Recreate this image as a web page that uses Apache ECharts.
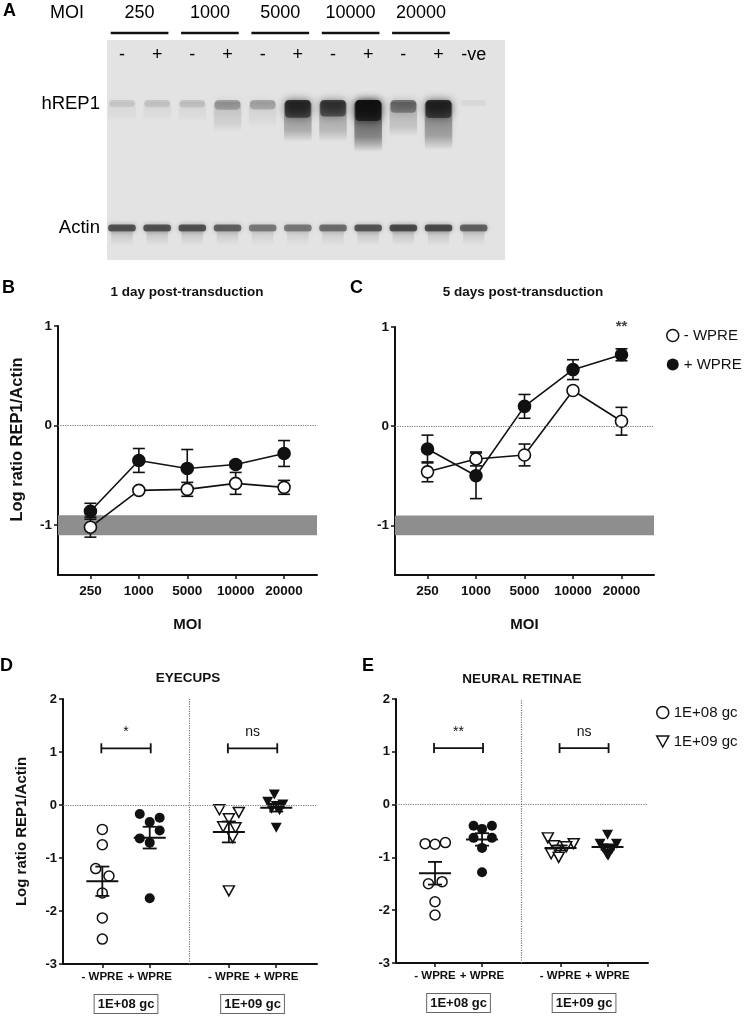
<!DOCTYPE html>
<html><head><meta charset="utf-8">
<script src="https://cdn.jsdelivr.net/npm/echarts@6/dist/echarts.min.js"></script>
<style>html,body{margin:0;padding:0;background:#fff}#c{width:747px;height:1016px}</style>
</head><body><div id="c"></div><script>
// ---------- Panel A: western blot ----------
const laneLabels = ['-','+','-','+','-','+','-','+','-','+','-ve'];
const moiGroups = ['250','1000','5000','10000','20000'];
const blotRows = ['hREP1','Actin'];
const rowMigration = [64, 188];
const hrep1Intensity = [0.12,0.14,0.15,0.30,0.28,0.80,0.72,1.00,0.48,0.82,0.06];
const smearIntensity = [0.05,0.05,0.06,0.14,0.08,0.38,0.30,0.62,0.22,0.45,0.00];
const smearLength    = [20,20,20,30,25,40,40,50,35,48,0];
const actinIntensity = [0.62,0.62,0.62,0.55,0.45,0.45,0.50,0.60,0.65,0.65,0.55];

// ---------- Panels B / C ----------
const moiLabels = ['250','1000','5000','10000','20000'];
const day1Minus    = [-1.02,-0.65,-0.64,-0.58,-0.62];
const day1MinusErr = [0.10,0.02,0.07,0.11,0.07];
const day1Plus     = [-0.86,-0.35,-0.43,-0.39,-0.28];
const day1PlusErr  = [0.08,0.12,0.19,0.03,0.13];
const day5Minus    = [-0.46,-0.33,-0.29,0.36,0.05];
const day5MinusErr = [0.10,0.07,0.11,0.03,0.14];
const day5Plus     = [-0.23,-0.50,0.20,0.57,0.72];
const day5PlusErr  = [0.14,0.23,0.12,0.10,0.06];
const backgroundBand = [-1.1, -0.9];
const sigDay5 = ['', '', '', '', '**'];

// ---------- Panels D / E ----------
const groupLabels = ['- WPRE','+ WPRE','- WPRE','+ WPRE'];
const doseLabels = ['1E+08 gc','1E+09 gc'];
const eyecupsMinus08 = [-0.46,-0.75,-1.20,-1.34,-1.66,-2.13,-2.53];
const eyecupsMinus08Jitter = [0,0,-0.14,0.14,0,0,0];
const eyecupsPlus08 = [-0.17,-0.24,-0.32,-0.48,-0.63,-0.71,-1.76];
const eyecupsPlus08Jitter = [-0.21,0.21,0,0.21,-0.21,0,0];
const eyecupsMinus09 = [-0.09,-0.14,-0.26,-0.41,-0.43,-0.61,-1.62];
const eyecupsMinus09Jitter = [-0.2,0.21,0,-0.12,0.14,0.08,0];
const eyecupsPlus09 = [0.20,0.06,0.01,-0.02,-0.07,-0.10,-0.43];
const eyecupsPlus09Jitter = [-0.04,-0.18,0.14,0,-0.1,0.07,0];
const retinaeMinus08 = [-0.74,-0.75,-0.72,-1.50,-1.46,-1.84,-2.09];
const retinaeMinus08Jitter = [-0.21,0,0.22,-0.14,0.15,0,0];
const retinaePlus08 = [-0.40,-0.40,-0.46,-0.63,-0.63,-0.82,-1.28];
const retinaePlus08Jitter = [-0.18,0.21,0,-0.18,0.21,0,0];
const retinaeMinus09 = [-0.63,-0.78,-0.74,-0.80,-0.87,-0.93,-1.00];
const retinaeMinus09Jitter = [-0.27,-0.14,0.28,0.12,-0.06,-0.2,-0.04];
const retinaePlus09 = [-0.57,-0.74,-0.74,-0.83,-0.85,-0.93,-0.97];
const retinaePlus09Jitter = [0,-0.16,0.19,-0.09,0.09,-0.02,0.01];
const sigEyecups = ['*','ns'];
const sigRetinae = ['**','ns'];
const bracketLevel = 1.07;

// ---------- layout / style ----------
const FONT = 'Liberation Sans, Arial, Helvetica, sans-serif';
const INK = '#111';
const groupPos = [0, 1, 2.67, 3.67];
const dividerPos = 1.845;

const chart = echarts.init(document.getElementById('c'), null, {renderer:'canvas', width:747, height:1016});

function meanSem(v){
  const n = v.length, m = v.reduce((a,b)=>a+b,0)/n;
  const sd = Math.sqrt(v.reduce((a,b)=>a+(b-m)*(b-m),0)/(n-1));
  return [m, sd/Math.sqrt(n)];
}
function ln(x1,y1,x2,y2,w){ return {type:'line', shape:{x1,y1,x2,y2}, style:{stroke:INK, lineWidth:w||1.5}}; }

function valueAxis(grid, min, max, extra){
  return Object.assign({
    gridIndex: grid, type:'value', min, max,
    splitLine:{show:false},
    axisLine:{show:true, onZero:false, lineStyle:{color:INK, width:2}},
    axisTick:{show:true, length:4, lineStyle:{color:INK, width:1.5}},
    axisLabel:{color:INK, fontFamily:FONT, fontWeight:'bold', fontSize:13.5}
  }, extra || {});
}
function hiddenAxis(grid, min, max, extra){
  return Object.assign({
    gridIndex: grid, type:'value', min, max,
    splitLine:{show:false}, axisLine:{show:false}, axisTick:{show:false}
  }, extra || {});
}

function errRender(params, api){
  const x = api.value(0), m = api.value(1), e = api.value(2);
  const t = api.coord([x, m+e]), b = api.coord([x, m-e]);
  const cap = 6;
  return {type:'group', children:[
    ln(t[0],t[1],b[0],b[1],1.6), ln(t[0]-cap,t[1],t[0]+cap,t[1],1.6), ln(b[0]-cap,b[1],b[0]+cap,b[1],1.6)
  ]};
}
function meanRender(params, api){
  const x = api.value(0), m = api.value(1), s = api.value(2);
  const c = api.coord([x, m]), t = api.coord([x, m+s]), b = api.coord([x, m-s]);
  return {type:'group', children:[
    ln(c[0]-16,c[1],c[0]+16,c[1],2), ln(t[0],t[1],b[0],b[1],1.8),
    ln(t[0]-7,t[1],t[0]+7,t[1],1.8), ln(b[0]-7,b[1],b[0]+7,b[1],1.8)
  ]};
}
function bracketRender(params, api){
  const x0 = api.value(0), x1 = api.value(1), y = api.value(2);
  const p0 = api.coord([x0, y]), p1 = api.coord([x1, y]);
  return {type:'group', children:[
    ln(p0[0]-1,p0[1],p1[0]+1,p1[1],1.8), ln(p0[0]-1,p0[1]-5,p0[0]-1,p0[1]+5,1.8), ln(p1[0]+1,p1[1]-5,p1[0]+1,p1[1]+5,1.8),
    {type:'text', style:{text: api.value(3), x:(p0[0]+p1[0])/2, y:p0[1]-9, align:'center', verticalAlign:'bottom',
      fontFamily:FONT, fontSize:14, fill:INK}}
  ]};
}

function rgba(a){ return 'rgba(15,15,15,' + Math.max(0, Math.min(1, a)) + ')'; }
function blotRender(params, api){
  const lane = api.value(0), hr = api.value(1), sm = api.value(2), sl = api.value(3), ac = api.value(4);
  const w = api.size([1,0])[0]*0.84;
  const uy = api.size([0,1])[1];
  const h = api.coord([lane, rowMigration[0]]);
  const a = api.coord([lane, rowMigration[1]]);
  const kids = [];
  if (sm > 0) kids.push({type:'rect', shape:{x:h[0]-w/2+1, y:h[1]-2, width:w-2, height:sl*uy, r:3},
    style:{fill:{type:'linear',x:0,y:0,x2:0,y2:1,colorStops:[{offset:0,color:rgba(sm)},{offset:0.7,color:rgba(sm*0.6)},{offset:1,color:rgba(0)}]},
      shadowBlur:6, shadowColor:rgba(sm*0.5)}});
  const bh = 5 + hr*16;
  kids.push({type:'rect', shape:{x:h[0]-w/2+2, y:h[1]-4, width:w-4, height:bh, r:4},
    style:{fill:{type:'linear',x:0,y:0,x2:0,y2:1,colorStops:[{offset:0,color:rgba(hr)},{offset:1,color:rgba(hr*0.7)}]},
      shadowBlur:9, shadowColor:rgba(hr*0.9)}});
  kids.push({type:'rect', shape:{x:a[0]-w/2+1, y:a[1]-3.5, width:w-2, height:7, r:3},
    style:{fill:rgba(ac), shadowBlur:5, shadowColor:rgba(ac*0.8)}});
  kids.push({type:'rect', shape:{x:a[0]-w/2+4, y:a[1]+4, width:w-8, height:14},
    style:{fill:{type:'linear',x:0,y:0,x2:0,y2:1,colorStops:[{offset:0,color:rgba(ac*0.22)},{offset:1,color:rgba(0)}]}, shadowBlur:4, shadowColor:rgba(ac*0.1)}});
  return {type:'group', children:kids};
}

function scatterSeries(name, vals, jit, pos, x, y, filled, tri){
  return {type:'scatter', name, xAxisIndex:x, yAxisIndex:y, z:4, silent:true,
    data: vals.map((v,i)=>[pos + jit[i], v]),
    symbol: tri ? 'triangle' : 'circle', symbolRotate: tri ? 180 : 0,
    symbolSize: tri ? [11,10] : 10,
    itemStyle:{color: filled ? INK : '#fff', opacity:1, borderColor: INK, borderWidth: filled ? 0 : 1.5}};
}
function lineSeries(name, vals, x, y, filled){
  return {type:'line', name, xAxisIndex:x, yAxisIndex:y, z:4, silent:true,
    data: vals.map((v,i)=>[i, v]), symbol:'circle', symbolSize:12, showSymbol:true,
    lineStyle:{color:INK, width:1.6},
    itemStyle:{color: filled ? INK : '#fff', opacity:1, borderColor: INK, borderWidth: 1.6}};
}
const dotted = {color:'#777', type:'dotted', width:1.2};

const eyecupGroups = [eyecupsMinus08, eyecupsPlus08, eyecupsMinus09, eyecupsPlus09];
const retinaGroups = [retinaeMinus08, retinaePlus08, retinaeMinus09, retinaePlus09];

const tickStyle = (vals)=>({show:true,length:4,lineStyle:{color:INK,width:1.5},customValues:vals});
const option = {
  animation:false,
  textStyle:{fontFamily:FONT},
  grid:[
    {left:107, top:40, width:398, height:220, show:true, backgroundColor:'#e3e3e3', borderWidth:0},
    {left:58, top:326, width:259, height:249},
    {left:395, top:327, width:259, height:248},
    {left:63, top:699, width:254, height:265},
    {left:396, top:699, width:252, height:264}
  ],
  xAxis:[
    hiddenAxis(0, 0.574, 11.89, {position:'top', axisLabel:{inside:true, margin:6, customValues:laneLabels.map((_,i)=>i+1),
      formatter:v=>laneLabels[Math.round(v)-1], color:'#000', fontFamily:FONT, fontSize:18}}),
    hiddenAxis(0, 0.574, 11.89, {position:'top', axisLabel:{margin:18, customValues:moiGroups.map((_,i)=>2*i+1.5),
      formatter:v=>moiGroups[Math.round((v-1.5)/2)], color:'#000', fontFamily:FONT, fontSize:18}}),
    valueAxis(1, -0.67, 4.68, {axisTick:tickStyle([0,1,2,3,4]),
      axisLabel:{color:INK,fontFamily:FONT,fontWeight:'bold',fontSize:13.5,margin:9,customValues:[0,1,2,3,4],formatter:v=>moiLabels[Math.round(v)]},
      name:'MOI', nameLocation:'middle', nameGap:42, nameTextStyle:{color:INK,fontFamily:FONT,fontWeight:'bold',fontSize:15}}),
    valueAxis(2, -0.67, 4.67, {axisTick:tickStyle([0,1,2,3,4]),
      axisLabel:{color:INK,fontFamily:FONT,fontWeight:'bold',fontSize:13.5,margin:9,customValues:[0,1,2,3,4],formatter:v=>moiLabels[Math.round(v)]},
      name:'MOI', nameLocation:'middle', nameGap:42, nameTextStyle:{color:INK,fontFamily:FONT,fontWeight:'bold',fontSize:15}}),
    valueAxis(3, -0.83, 4.53, {axisTick:tickStyle(groupPos),
      axisLabel:{color:INK,fontFamily:FONT,fontWeight:'bold',fontSize:11.5,margin:7,customValues:groupPos,formatter:v=>groupLabels[groupPos.indexOf(v)]}}),
    hiddenAxis(3, -0.83, 4.53, {position:'bottom', axisLabel:{margin:31, customValues:[0.5, 3.17], formatter:v=>doseLabels[v<2?0:1],
      color:INK, fontFamily:FONT, fontWeight:'bold', fontSize:13, borderColor:'#666', borderWidth:1, padding:[3,3,2,3], backgroundColor:'#fff'}}),
    valueAxis(4, -0.83, 4.53, {axisTick:tickStyle(groupPos),
      axisLabel:{color:INK,fontFamily:FONT,fontWeight:'bold',fontSize:11.5,margin:7,customValues:groupPos,formatter:v=>groupLabels[groupPos.indexOf(v)]}}),
    hiddenAxis(4, -0.83, 4.53, {position:'bottom', axisLabel:{margin:31, customValues:[0.5, 3.17], formatter:v=>doseLabels[v<2?0:1],
      color:INK, fontFamily:FONT, fontWeight:'bold', fontSize:13, borderColor:'#666', borderWidth:1, padding:[3,3,2,3], backgroundColor:'#fff'}})
  ],
  yAxis:[
    hiddenAxis(0, 0, 220, {inverse:true, axisLabel:{margin:7, customValues:rowMigration, formatter:v=>blotRows[rowMigration.indexOf(v)],
      color:'#000', fontFamily:FONT, fontSize:18.5}}),
    valueAxis(1, -1.5, 1, {axisTick:tickStyle([-1,0,1]),
      axisLabel:{color:INK,fontFamily:FONT,fontWeight:'bold',fontSize:13.5,margin:6,customValues:[-1,0,1]},
      name:'Log ratio REP1/Actin', nameLocation:'middle', nameGap:32,
      nameTextStyle:{color:INK,fontFamily:FONT,fontWeight:'bold',fontSize:16.5,padding:[0,0,0,22]}}),
    valueAxis(2, -1.5, 1, {axisTick:tickStyle([-1,0,1]),
      axisLabel:{color:INK,fontFamily:FONT,fontWeight:'bold',fontSize:13.5,margin:6,customValues:[-1,0,1]}}),
    valueAxis(3, -3, 2, {interval:1, axisLabel:{color:INK,fontFamily:FONT,fontWeight:'bold',fontSize:13,margin:6},
      name:'Log ratio REP1/Actin', nameLocation:'middle', nameGap:34,
      nameTextStyle:{color:INK,fontFamily:FONT,fontWeight:'bold',fontSize:15}}),
    valueAxis(4, -3, 2, {interval:1, axisLabel:{color:INK,fontFamily:FONT,fontWeight:'bold',fontSize:13,margin:6}})
  ],
  legend:[
    {orient:'vertical', left:666, top:328, padding:0, itemWidth:12, itemHeight:12, itemGap:14, selectedMode:false,
      textStyle:{color:INK, fontFamily:FONT, fontSize:15},
      data:[{name:'- WPRE', icon:'circle', itemStyle:{color:'#fff', borderColor:INK, borderWidth:1.5}},
            {name:'+ WPRE', icon:'circle', itemStyle:{color:INK, borderWidth:0}}]},
    {orient:'vertical', left:656, top:705, padding:0, itemWidth:12, itemHeight:12, itemGap:14, selectedMode:false,
      textStyle:{color:INK, fontFamily:FONT, fontSize:15},
      data:[{name:'1E+08 gc', icon:'circle', itemStyle:{color:'#fff', borderColor:INK, borderWidth:1.5}},
            {name:'1E+09 gc', icon:'path://M0,0L12,0L6,11Z', itemStyle:{color:'#fff', borderColor:INK, borderWidth:1.5}}]}
  ],
  graphic:[
    {type:'text', x:3, y:2, style:{text:'A', fontFamily:FONT, fontWeight:'bold', fontSize:18, fill:'#000'}},
    {type:'text', x:67, y:13.5, style:{text:'MOI', align:'center', verticalAlign:'middle', fontFamily:FONT, fontSize:18, fill:'#000'}},
    {type:'text', x:2, y:279, style:{text:'B', fontFamily:FONT, fontWeight:'bold', fontSize:18, fill:'#000'}},
    {type:'text', x:350, y:279, style:{text:'C', fontFamily:FONT, fontWeight:'bold', fontSize:18, fill:'#000'}},
    {type:'text', x:0, y:657, style:{text:'D', fontFamily:FONT, fontWeight:'bold', fontSize:18, fill:'#000'}},
    {type:'text', x:362, y:657, style:{text:'E', fontFamily:FONT, fontWeight:'bold', fontSize:18, fill:'#000'}},
    {type:'text', x:187, y:292, style:{text:'1 day post-transduction', align:'center', verticalAlign:'middle', fontFamily:FONT, fontWeight:'bold', fontSize:13.5, fill:INK}},
    {type:'text', x:523, y:292, style:{text:'5 days post-transduction', align:'center', verticalAlign:'middle', fontFamily:FONT, fontWeight:'bold', fontSize:13.5, fill:INK}},
    {type:'text', x:188, y:678.5, style:{text:'EYECUPS', align:'center', verticalAlign:'middle', fontFamily:FONT, fontWeight:'bold', fontSize:13.5, fill:INK}},
    {type:'text', x:522, y:679.5, style:{text:'NEURAL RETINAE', align:'center', verticalAlign:'middle', fontFamily:FONT, fontWeight:'bold', fontSize:13.5, fill:INK}}
  ],
  series:[
    // A
    {type:'custom', xAxisIndex:0, yAxisIndex:0, silent:true, clip:true,
      data: laneLabels.map((_,i)=>[i+1, hrep1Intensity[i], smearIntensity[i], smearLength[i], actinIntensity[i]]),
      renderItem: blotRender},
    {type:'custom', xAxisIndex:1, yAxisIndex:0, silent:true, clip:false,
      data: moiGroups.map((_,i)=>[2*i+1.5]),
      renderItem:(p,api)=>{const c=api.value(0); const a=api.coord([c-0.82,-7]), b=api.coord([c+0.82,-7]);
        return ln(a[0],a[1],b[0],b[1],2.6);}},
    // B
    {type:'line', xAxisIndex:2, yAxisIndex:1, data:[], z:1, silent:true,
      markArea:{silent:true, itemStyle:{color:'#8e8e8e'}, data:[[{yAxis:backgroundBand[1]},{yAxis:backgroundBand[0]}]]},
      markLine:{silent:true, symbol:'none', label:{show:false}, lineStyle:dotted, data:[{yAxis:0}]}},
    {type:'custom', xAxisIndex:2, yAxisIndex:1, z:3, silent:true, renderItem:errRender,
      data: day1Minus.map((v,i)=>[i,v,day1MinusErr[i]]).concat(day1Plus.map((v,i)=>[i,v,day1PlusErr[i]]))},
    lineSeries('- WPRE', day1Minus, 2, 1, false),
    lineSeries('+ WPRE', day1Plus, 2, 1, true),
    // C
    {type:'line', xAxisIndex:3, yAxisIndex:2, data:[], z:1, silent:true,
      markArea:{silent:true, itemStyle:{color:'#8e8e8e'}, data:[[{yAxis:backgroundBand[1]},{yAxis:backgroundBand[0]}]]},
      markLine:{silent:true, symbol:'none', label:{show:false}, lineStyle:dotted, data:[{yAxis:0}]}},
    {type:'custom', xAxisIndex:3, yAxisIndex:2, z:3, silent:true, renderItem:errRender,
      data: day5Minus.map((v,i)=>[i,v,day5MinusErr[i]]).concat(day5Plus.map((v,i)=>[i,v,day5PlusErr[i]]))},
    lineSeries('- WPRE', day5Minus, 3, 2, false),
    lineSeries('+ WPRE', day5Plus, 3, 2, true),
    {type:'scatter', xAxisIndex:3, yAxisIndex:2, silent:true, symbolSize:1, itemStyle:{color:'transparent'},
      data: sigDay5.map((s,i)=>[i,1,s]).filter(d=>d[2]),
      label:{show:true, position:'inside', formatter:p=>p.data[2], color:INK, fontFamily:FONT, fontWeight:'bold', fontSize:15}},
    // D
    {type:'line', xAxisIndex:4, yAxisIndex:3, data:[], z:1, silent:true,
      markLine:{silent:true, symbol:'none', label:{show:false}, lineStyle:dotted, data:[{yAxis:0},{xAxis:dividerPos}]}},
    scatterSeries('1E+08 gc', eyecupsMinus08, eyecupsMinus08Jitter, groupPos[0], 4, 3, false, false),
    scatterSeries('1E+08 gc +', eyecupsPlus08, eyecupsPlus08Jitter, groupPos[1], 4, 3, true, false),
    scatterSeries('1E+09 gc', eyecupsMinus09, eyecupsMinus09Jitter, groupPos[2], 4, 3, false, true),
    scatterSeries('1E+09 gc +', eyecupsPlus09, eyecupsPlus09Jitter, groupPos[3], 4, 3, true, true),
    {type:'custom', xAxisIndex:4, yAxisIndex:3, z:5, silent:true, renderItem:meanRender,
      data: eyecupGroups.map((g,i)=>[groupPos[i]].concat(meanSem(g)))},
    {type:'custom', xAxisIndex:4, yAxisIndex:3, z:5, silent:true, renderItem:bracketRender,
      data: sigEyecups.map((s,i)=>[groupPos[2*i], groupPos[2*i+1], bracketLevel, s])},
    // E
    {type:'line', xAxisIndex:6, yAxisIndex:4, data:[], z:1, silent:true,
      markLine:{silent:true, symbol:'none', label:{show:false}, lineStyle:dotted, data:[{yAxis:0},{xAxis:dividerPos}]}},
    scatterSeries('1E+08 gc', retinaeMinus08, retinaeMinus08Jitter, groupPos[0], 6, 4, false, false),
    scatterSeries('1E+08 gc +', retinaePlus08, retinaePlus08Jitter, groupPos[1], 6, 4, true, false),
    scatterSeries('1E+09 gc', retinaeMinus09, retinaeMinus09Jitter, groupPos[2], 6, 4, false, true),
    scatterSeries('1E+09 gc +', retinaePlus09, retinaePlus09Jitter, groupPos[3], 6, 4, true, true),
    {type:'custom', xAxisIndex:6, yAxisIndex:4, z:5, silent:true, renderItem:meanRender,
      data: retinaGroups.map((g,i)=>[groupPos[i]].concat(meanSem(g)))},
    {type:'custom', xAxisIndex:6, yAxisIndex:4, z:5, silent:true, renderItem:bracketRender,
      data: sigRetinae.map((s,i)=>[groupPos[2*i], groupPos[2*i+1], bracketLevel, s])}
  ]
};
chart.setOption(option);
</script></body></html>
